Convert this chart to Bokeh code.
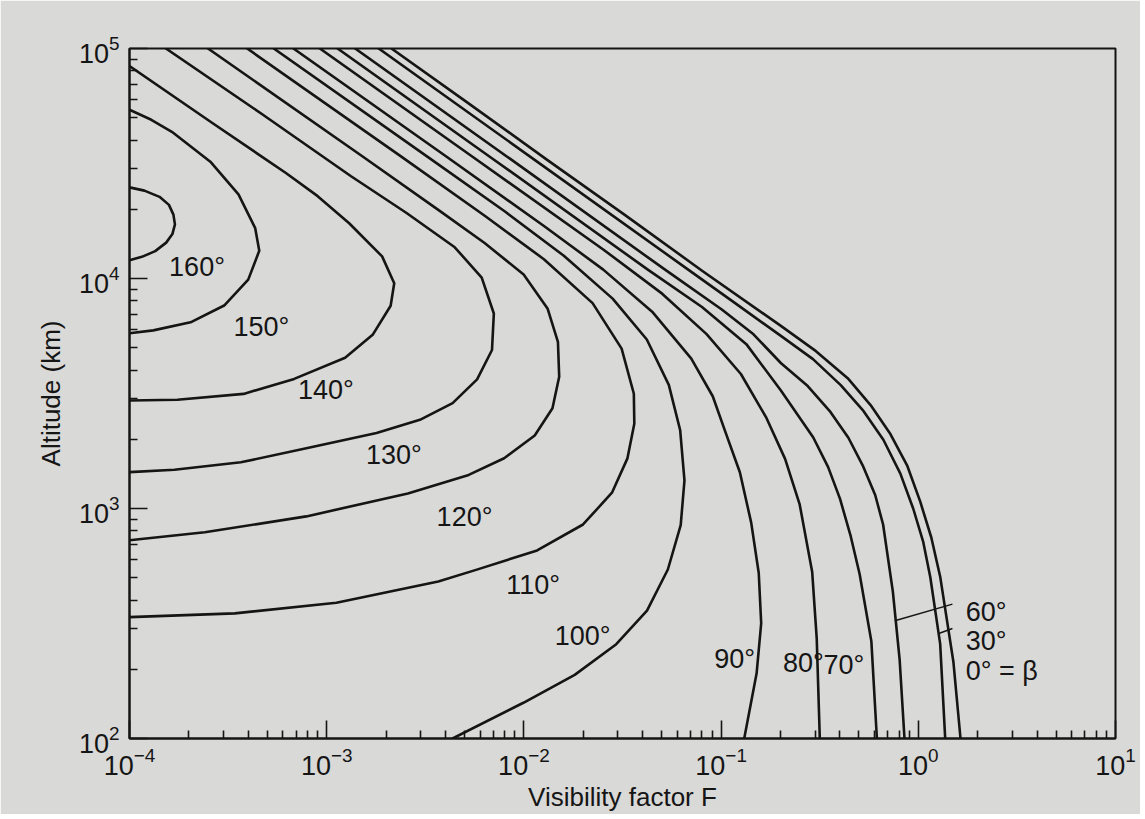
from bokeh.plotting import figure
from bokeh.models import FixedTicker, Range1d, LogTickFormatter
from bokeh.core.properties import value
from bokeh.embed import file_html
from bokeh.resources import INLINE

# ---- data (F = visibility factor, H = altitude km) ----
F_160 = [1.0e-4, 1.19e-4, 1.42e-4, 1.585e-4, 1.67e-4, 1.70e-4, 1.65e-4, 1.535e-4, 1.35e-4, 1.155e-4, 1.0e-4]
H_160 = [24900, 24100, 22650, 20900, 18950, 17200, 15600, 14320, 13150, 12420, 12000]

F_150 = [1e-4, 1.29e-4, 1.64e-4, 2.57e-4, 3.57e-4, 4.34e-4, 4.55e-4, 4.0e-4, 3.02e-4, 2.04e-4, 1.32e-4, 1e-4]
H_150 = [54200, 49000, 43450, 32200, 23200, 16550, 13200, 9890, 7630, 6450, 5950, 5780]

F_140 = [1e-4, 2.62e-4, 6.21e-4, 9.0e-4, 1.30e-3, 1.91e-3, 2.20e-3, 2.11e-3, 1.71e-3, 1.24e-3, 6.84e-4, 3.79e-4, 1.75e-4, 1e-4]
H_140 = [83900, 47550, 28750, 22800, 17380, 12480, 9530, 7610, 5690, 4520, 3660, 3150, 2970, 2950]

F_130 = [1.53e-4, 4.67e-4, 1.329e-3, 2.53e-3, 4.46e-3, 6.11e-3, 7.04e-3, 6.89e-3, 5.79e-3, 4.35e-3, 2.97e-3, 1.79e-3, 8.1e-4, 3.67e-4, 1.69e-4, 1e-4]
H_130 = [1e5, 52030, 27840, 19320, 13670, 10090, 7047, 4887, 3645, 2870, 2430, 2130, 1836, 1588, 1473, 1439]

F_120 = [2.5e-4, 1.503e-3, 3.71e-3, 6.32e-3, 9.97e-3, 0.0132, 0.01488, 0.0151, 0.01396, 0.01135, 7.94e-3, 5.25e-3, 2.58e-3, 7.88e-4, 2.41e-4, 1e-4]
H_120 = [1e5, 34180, 19770, 14270, 10400, 7379, 5303, 3740, 2728, 2078, 1653, 1400, 1162, 924, 788, 728]

F_110 = [3.95e-4, 2.38e-3, 6.38e-3, 0.01263, 0.0223, 0.0313, 0.0361, 0.0363, 0.0335, 0.02796, 0.01995, 0.01167, 5.72e-3, 3.68e-3, 1.12e-3, 3.42e-4, 1e-4]
H_110 = [1e5, 33970, 18640, 12130, 7816, 4955, 3154, 2336, 1652, 1171, 852, 657, 541, 482, 389, 350, 337]

F_100 = [5.39e-4, 3.25e-3, 8.05e-3, 0.01594, 0.02818, 0.042, 0.0543, 0.062, 0.0652, 0.0624, 0.0537, 0.0421, 0.0294, 0.0181, 0.00994, 0.00435]
H_100 = [1e5, 33800, 19500, 12560, 8177, 5430, 3446, 2191, 1326, 847, 543, 360, 257, 189, 143, 100]

F_90 = [6.78e-4, 4.09e-3, 0.01274, 0.02526, 0.0447, 0.0706, 0.0907, 0.105, 0.1245, 0.1421, 0.1552, 0.1597, 0.1514, 0.131]
H_90 = [1e5, 33650, 16830, 10930, 7175, 4484, 3076, 2158, 1438, 868, 524, 317, 192, 100]

F_80 = [9.23e-4, 5.58e-3, 0.02535, 0.0504, 0.0844, 0.126, 0.1698, 0.2111, 0.2503, 0.2897, 0.3055, 0.3166]
H_80 = [1e5, 33500, 13340, 8570, 5730, 3843, 2476, 1644, 1042, 529, 271, 100]

F_70 = [1.135e-3, 6.88e-3, 0.0425, 0.08, 0.1343, 0.2006, 0.2934, 0.349, 0.401, 0.4545, 0.504, 0.578, 0.6166]
H_70 = [1e5, 33350, 10930, 7520, 5183, 3266, 2036, 1513, 1101, 756, 519, 265, 100]

F_60 = [1.394e-3, 8.46e-3, 0.0524, 0.1008, 0.146, 0.2014, 0.275, 0.3584, 0.442, 0.5254, 0.6045, 0.663, 0.743, 0.804, 0.851]
H_60 = [1e5, 33270, 10870, 7335, 5718, 4280, 3406, 2630, 2031, 1524, 1145, 852, 435, 221, 100]

F_30 = [1.835e-3, 0.01115, 0.0692, 0.1173, 0.2018, 0.2924, 0.4043, 0.527, 0.665, 0.811, 0.942, 1.06, 1.15, 1.291, 1.369]
H_30 = [1e5, 33130, 10820, 7838, 5615, 4460, 3440, 2655, 1990, 1418, 1000, 714, 504, 258, 100]

F_0 = [2.13e-3, 5.24e-3, 0.01296, 0.0322, 0.0804, 0.2018, 0.3027, 0.4385, 0.5728, 0.722, 0.88, 1.023, 1.164, 1.293, 1.507, 1.637]
H_0 = [1e5, 57760, 33040, 19010, 10780, 6210, 4831, 3687, 2816, 2107, 1531, 1071, 748, 502, 215, 100]

# curve labels
label_text = ["160°", "150°", "140°", "130°", "120°", "110°", "100°", "90°", "80°", "70°"]
label_F = [2.2e-4, 4.66e-4, 9.9e-4, 2.19e-3, 5.0e-3, 0.01115, 0.01986, 0.117, 0.2616, 0.42]
label_H = [11200, 6170, 3285, 1700, 916, 465, 279, 222, 214, 209]

right_text = ["60°", "30°", "0° = β"]
right_F = [1.74, 1.74, 1.74]
right_H = [355, 265, 196]

# leader lines for 60° and 30°
lead_F0 = [0.76, 1.27]
lead_H0 = [325, 286]
lead_F1 = [1.49, 1.49]
lead_H1 = [384, 301]

# axis decades
x_decades = [1e-4, 1e-3, 1e-2, 1e-1, 1e0, 1e1]
y_decades = [1e2, 1e3, 1e4, 1e5]

FONT = "Liberation Sans"
BG = "#d9d9d7"
INK = "#151515"

p = figure(width=1140, height=814, x_axis_type="log", y_axis_type="log",
           x_range=Range1d(1e-4, 10), y_range=Range1d(100, 1e5),
           output_backend="svg", toolbar_location=None,
           min_border_left=129, min_border_right=25, min_border_top=48, min_border_bottom=72)

p.background_fill_color = BG
p.border_fill_color = BG
p.outline_line_color = INK
p.outline_line_width = 2
p.grid.visible = False

curves = [(F_160, H_160), (F_150, H_150), (F_140, H_140), (F_130, H_130), (F_120, H_120),
          (F_110, H_110), (F_100, H_100), (F_90, H_90), (F_80, H_80), (F_70, H_70),
          (F_60, H_60), (F_30, H_30), (F_0, H_0)]
for fx, hy in curves:
    p.line(fx, hy, line_color=INK, line_width=2.6, line_join="round", line_cap="round")

p.text(x=label_F, y=label_H, text=label_text, text_font=value(FONT), text_font_size="27px",
       text_color=INK, text_align="center", text_baseline="middle")
p.text(x=right_F, y=right_H, text=right_text, text_font=value(FONT), text_font_size="27px",
       text_color=INK, text_align="left", text_baseline="middle")
p.segment(x0=lead_F0, y0=lead_H0, x1=lead_F1, y1=lead_H1, line_color=INK, line_width=1.5)

minor_x = [m * d for d in x_decades[:-1] for m in range(2, 10)]
minor_y = [m * d for d in y_decades[:-1] for m in range(2, 10)]
p.xaxis.ticker = FixedTicker(ticks=x_decades, minor_ticks=minor_x)
p.yaxis.ticker = FixedTicker(ticks=y_decades, minor_ticks=minor_y)

for ax in (p.xaxis[0], p.yaxis[0]):
    ax.formatter = LogTickFormatter(min_exponent=0)
    ax.axis_line_color = INK
    ax.axis_line_width = 2
    ax.major_tick_in = 18
    ax.major_tick_out = 0
    ax.minor_tick_in = 8
    ax.minor_tick_out = 0
    ax.major_tick_line_color = INK
    ax.minor_tick_line_color = INK
    ax.major_tick_line_width = 1.6
    ax.minor_tick_line_width = 1.6
    ax.major_label_text_font = FONT
    ax.major_label_text_font_size = "27px"
    ax.major_label_text_color = INK
    ax.axis_label_text_font = FONT
    ax.axis_label_text_font_size = "26px"
    ax.axis_label_text_font_style = "normal"
    ax.axis_label_text_color = INK

p.xaxis.axis_label = "Visibility factor F"
p.yaxis.axis_label = "Altitude (km)"
p.xaxis.major_label_standoff = 8
p.yaxis.major_label_standoff = 10
p.xaxis.axis_label_standoff = 4
p.yaxis.axis_label_standoff = 10

open("out.html", "w").write(file_html(p, INLINE))
